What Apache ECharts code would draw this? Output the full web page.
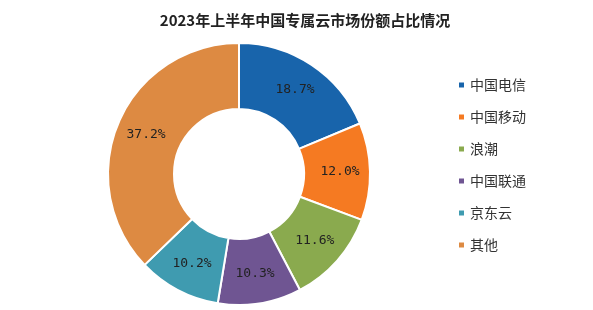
<!DOCTYPE html>
<html><head><meta charset="utf-8">
<script src="https://cdn.jsdelivr.net/npm/echarts@6/dist/echarts.min.js"></script>
<style>html,body{margin:0;padding:0;background:#fff}#c{width:593px;height:310px}</style>
</head><body><div id="c"></div>
<script>
const categories = ['中国电信','中国移动','浪潮','中国联通','京东云','其他'];
const values = [18.7, 12.0, 11.6, 10.3, 10.2, 37.2];
const colors = ['#1864ab','#f57a22','#8aaa4e','#6f5592','#3f9bb0','#dd8a42'];
const chart = echarts.init(document.getElementById('c'));
chart.setOption({
  animation:false,
  title:{text:'2023年上半年中国专属云市场份额占比情况',left:300,top:8,textAlign:'center',
    textStyle:{fontFamily:'Noto Sans CJK SC',fontWeight:'bold',fontSize:15,color:'#222'}},
  color:colors,
  legend:{orient:'vertical',left:452,top:73,itemWidth:7,itemHeight:7,itemGap:18,icon:'rect',
    textStyle:{fontFamily:'Noto Sans CJK SC',fontSize:14,color:'#333'},data:categories},
  series:[{type:'pie',center:[239,174],radius:[65,131],startAngle:90,clockwise:true,
    itemStyle:{borderColor:'#fff',borderWidth:2},
    label:{position:'inside',formatter:p=>p.value.toFixed(1)+'%',fontFamily:'DejaVu Sans Mono',fontSize:13,color:'#222'},
    labelLine:{show:false},
    data:categories.map((n,i)=>({name:n,value:values[i]}))}]
});
</script></body></html>
